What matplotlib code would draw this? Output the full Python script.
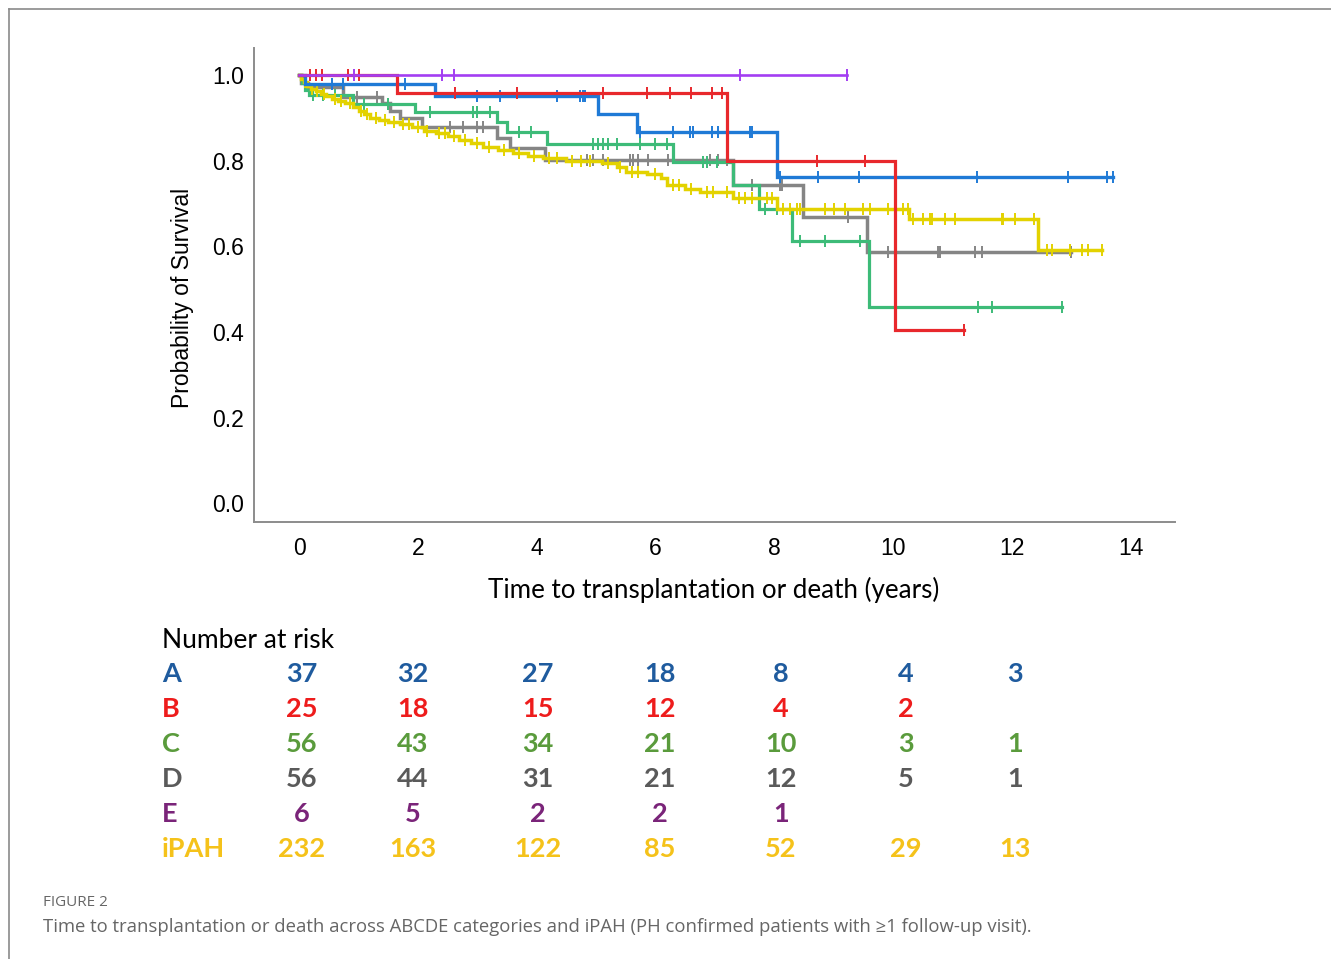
import numpy as np
import matplotlib
matplotlib.use('Agg')
import matplotlib.pyplot as plt
from matplotlib.lines import Line2D

# ---- Kaplan-Meier curves (event times, survival after step, end time, censor times)
a_times = [0.1, 2.29, 5.04, 5.69, 8.05]
a_surv = [0.979, 0.951, 0.909, 0.867, 0.762]
a_end = 13.7
a_cens = [0.56, 0.74, 1.78, 3.0, 3.39, 4.35, 4.73, 4.78, 4.82, 5.74, 6.3, 6.59, 6.64,
          6.95, 7.05, 7.6, 7.63, 8.1, 8.74, 9.43, 11.42, 12.95, 13.6, 13.7]

b_times = [1.65, 7.21, 10.03]
b_surv = [0.958, 0.799, 0.404]
b_end = 11.2
b_cens = [0.19, 0.29, 0.39, 0.83, 1.0, 2.63, 3.67, 5.12, 5.86, 6.25, 6.6, 6.95, 7.12,
          8.72, 9.53, 11.2]

c_times = [0.05, 0.1, 0.17, 0.9, 1.95, 3.33, 3.5, 4.18, 6.3, 7.31, 7.74, 8.3, 9.6]
c_surv = [0.982, 0.964, 0.953, 0.932, 0.913, 0.89, 0.867, 0.838, 0.797, 0.743, 0.687,
          0.612, 0.458]
c_end = 12.85
c_cens = [0.24, 0.4, 0.6, 1.1, 1.5, 2.2, 2.93, 3.0, 3.22, 3.7, 3.9, 4.95, 5.04, 5.12,
          5.2, 5.36, 5.74, 6.0, 6.2, 6.8, 6.87, 7.04, 7.85, 8.05, 8.44, 8.86, 9.45,
          11.44, 11.67, 12.85]

d_times = [0.03, 0.15, 0.74, 1.4, 1.53, 1.7, 2.07, 3.33, 3.55, 4.14, 7.31, 8.49, 9.56]
d_surv = [0.982, 0.972, 0.949, 0.935, 0.916, 0.9, 0.878, 0.853, 0.829, 0.801, 0.743,
          0.668, 0.586]
d_end = 13.0
d_cens = [0.98, 1.31, 2.54, 2.76, 3.0, 3.1, 4.85, 4.95, 5.12, 5.58, 5.63, 5.71, 5.88,
          6.22, 6.92, 7.06, 7.2, 7.63, 8.1, 8.13, 9.25, 9.92, 10.76, 10.8, 11.39, 11.5,
          13.0]

e_times = []
e_surv = []
e_end = 9.22
e_cens = [0.92, 2.41, 2.61, 7.43, 9.22]

ipah_times = [0.03, 0.08, 0.13, 0.2, 0.28, 0.36, 0.45, 0.55, 0.65, 0.78, 0.9, 1.0, 1.1,
              1.2, 1.35, 1.5, 1.7, 1.9, 2.1, 2.3, 2.5, 2.7, 2.9, 3.1, 3.35, 3.6, 3.85,
              4.1, 4.5, 5.1, 5.35, 5.5, 5.85, 6.1, 6.2, 6.5, 6.75, 7.31, 8.05, 10.27,
              12.45]
ipah_surv = [0.991, 0.983, 0.975, 0.968, 0.962, 0.955, 0.95, 0.945, 0.94, 0.935, 0.925,
             0.915, 0.908, 0.9, 0.895, 0.89, 0.885, 0.878, 0.87, 0.864, 0.857, 0.848,
             0.84, 0.832, 0.825, 0.818, 0.81, 0.805, 0.8, 0.795, 0.785, 0.773, 0.768,
             0.759, 0.742, 0.733, 0.727, 0.713, 0.687, 0.663, 0.591]
ipah_end = 13.52
ipah_cens = [0.1, 0.22, 0.3, 0.42, 0.6, 0.7, 0.85, 1.05, 1.15, 1.3, 1.45, 1.6, 1.75,
             1.85, 2.0, 2.15, 2.35, 2.45, 2.6, 2.8, 3.0, 3.2, 3.45, 3.7, 3.95, 4.2,
             4.35, 4.6, 4.75, 4.9, 5.2, 5.4, 5.6, 5.7, 6.0, 6.3, 6.4, 6.6, 6.87, 6.97,
             7.2, 7.4, 7.51, 7.63, 7.88, 7.97, 8.15, 8.27, 8.39, 8.44, 8.86, 9.0, 9.2,
             9.5, 9.62, 9.92, 10.17, 10.26, 10.34, 10.51, 10.63, 10.66, 10.88, 11.05,
             11.84, 11.86, 12.06, 12.37, 12.6, 12.68, 12.99, 13.19, 13.29, 13.52]

# ---- number at risk table
risk_groups = ['A', 'B', 'C', 'D', 'E', 'iPAH']
risk_a = ['37', '32', '27', '18', '8', '4', '3']
risk_b = ['25', '18', '15', '12', '4', '2', '']
risk_c = ['56', '43', '34', '21', '10', '3', '1']
risk_d = ['56', '44', '31', '21', '12', '5', '1']
risk_e = ['6', '5', '2', '2', '1', '', '']
risk_ipah = ['232', '163', '122', '85', '52', '29', '13']

W, H = 1331, 959
fig = plt.figure(figsize=(W / 100, H / 100), dpi=100)


def fx(px):
    return px / W


def fy(py):
    return 1 - py / H


ax = fig.add_axes([fx(254), fy(522), fx(1175) - fx(254), fy(48) - fy(522)])

curves = [
    (d_times, d_surv, d_end, d_cens, '#858585', 2.5),
    (c_times, c_surv, c_end, c_cens, '#3dbb78', 2.3),
    (ipah_times, ipah_surv, ipah_end, ipah_cens, '#e3d200', 2.5),
    (a_times, a_surv, a_end, a_cens, '#1f7ad6', 2.4),
    (b_times, b_surv, b_end, b_cens, '#e8282c', 2.3),
    (e_times, e_surv, e_end, e_cens, '#a33ef2', 1.9),
]

for times, surv, end, cens, col, lw in curves:
    t = np.array([0.0] + list(times) + [end])
    s = np.array([1.0] + list(surv) + [surv[-1] if surv else 1.0])
    ax.step(t, s, where='post', color=col, lw=lw, solid_joinstyle='miter')
    idx = np.searchsorted(t, np.array(cens), side='right') - 1
    ax.plot(cens, s[idx], ls='none', marker='|', ms=8, mew=1.4, color=col)

ax.set_xlim(-0.76, 14.75)
ax.set_ylim(-0.044, 1.063)
ax.set_xticks(range(0, 15, 2))
ax.set_yticks([0.0, 0.2, 0.4, 0.6, 0.8, 1.0])
ax.set_yticklabels(['0.0', '0.2', '0.4', '0.6', '0.8', '1.0'])
ax.tick_params(length=0, labelsize=16.5, pad=7)
ax.tick_params(axis='x', pad=11)
for lab in ax.get_xticklabels() + ax.get_yticklabels():
    lab.set_family('Liberation Sans')
for side in ['top', 'right']:
    ax.spines[side].set_visible(False)
for side in ['left', 'bottom']:
    ax.spines[side].set_color('#8c8c8c')
    ax.spines[side].set_linewidth(1.4)

fig.text(fx(183), fy(298), 'Probability of Survival', rotation=90, ha='center',
         va='center', fontsize=16.5, family='Liberation Sans')
fig.text(fx(714), fy(590), 'Time to transplantation or death (years)', ha='center',
         va='center', fontsize=18.7, family='Lato')

# risk table
fig.text(fx(162), fy(640), 'Number at risk', ha='left', va='center', fontsize=19,
         family='Lato', color='black')
row_y = [674, 709, 744, 779, 814, 849]
col_x = [302, 413, 538, 660, 781, 906, 1015]
row_cols = ['#1f5b9e', '#ee1c1c', '#5a9b3c', '#5a5a5a', '#7a2479', '#f5c21a']
rows = [risk_a, risk_b, risk_c, risk_d, risk_e, risk_ipah]
for name, vals, yy, col in zip(risk_groups, rows, row_y, row_cols):
    fig.text(fx(162), fy(yy), name, ha='left', va='center', fontsize=19.5,
             family='Lato', weight='bold', color=col)
    for xx, v in zip(col_x, vals):
        fig.text(fx(xx), fy(yy), v, ha='center', va='center', fontsize=19.5,
                 family='Lato', weight='bold', color=col)

# caption
fig.text(fx(43), fy(903), 'FIGURE 2', ha='left', va='center', fontsize=11,
         family='Open Sans', color='#666666')
fig.text(fx(43), fy(927), 'Time to transplantation or death across ABCDE categories '
         'and iPAH (PH confirmed patients with \u22651 follow-up visit).', ha='left',
         va='center', fontsize=13.3, family='Open Sans', color='#666666')

# page frame
fig.add_artist(Line2D([fx(9), fx(9)], [fy(9), 0], color='#8a8a8a', lw=1.2))
fig.add_artist(Line2D([fx(9), 1], [fy(9), fy(9)], color='#8a8a8a', lw=1.2))

fig.savefig('out.png', dpi=100)
